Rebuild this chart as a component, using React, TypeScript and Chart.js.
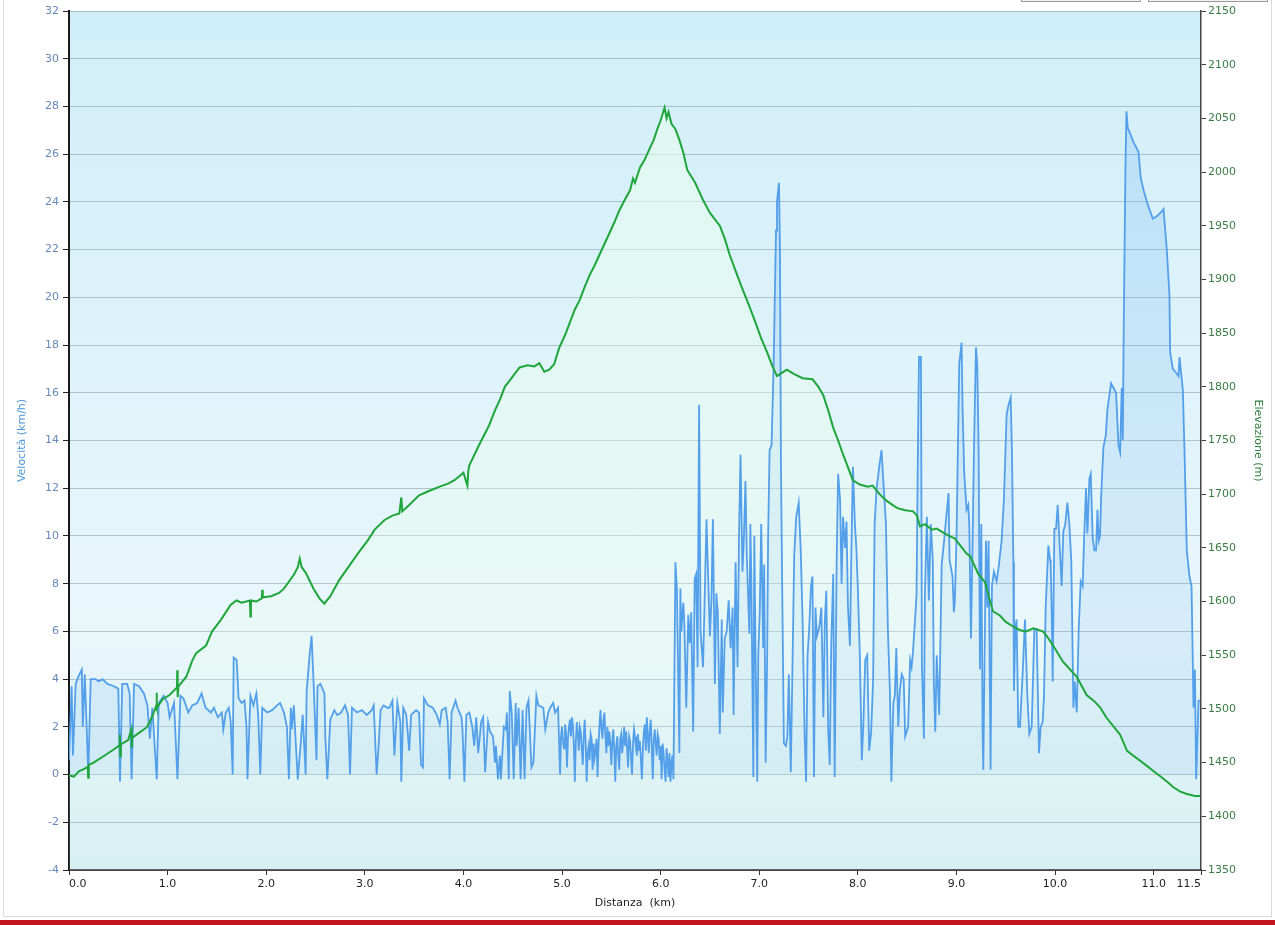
import React, { useEffect, useRef } from 'react';
import { Chart, registerables } from 'chart.js';

Chart.register(...registerables);

// tick positions on the distance axis (last one is the end of the track)
const xTicksKm = [0, 1, 2, 3, 4, 5, 6, 7, 8, 9, 10, 11, 11.48];
const xTickLabels = ['0.0', '1.0', '2.0', '3.0', '4.0', '5.0', '6.0', '7.0', '8.0', '9.0', '10.0', '11.0', '11.5'];

// [km, km/h]
const speedPoints: [number, number][] = [
  [0, 0.6], [0.027, 3.7], [0.04, 0.8], [0.068, 3.8], [0.095, 4.1], [0.13, 4.4], [0.14, 2.0], [0.16, 4.2],
  [0.196, 0.0], [0.22, 4.0], [0.27, 4.0], [0.3, 3.9], [0.34, 4.0], [0.39, 3.8], [0.456, 3.7], [0.5, 3.6],
  [0.517, -0.3], [0.54, 3.8], [0.59, 3.8], [0.615, 3.4], [0.635, -0.2], [0.66, 3.8], [0.71, 3.7], [0.76, 3.4],
  [0.795, 2.9], [0.82, 1.5], [0.845, 2.8], [0.89, -0.2], [0.91, 3.0], [0.96, 3.3], [1.0, 3.0], [1.02, 2.4],
  [1.065, 3.0], [1.1, -0.2], [1.13, 3.3], [1.16, 3.2], [1.21, 2.6], [1.25, 2.9], [1.3, 3.0], [1.345, 3.4],
  [1.385, 2.8], [1.44, 2.6], [1.47, 2.8], [1.51, 2.4], [1.55, 2.6], [1.565, 1.9], [1.59, 2.6], [1.62, 2.8],
  [1.64, 2.2], [1.66, 0.0], [1.67, 4.9], [1.7, 4.8], [1.72, 3.2], [1.75, 3.0], [1.78, 3.1], [1.8, 2.0],
  [1.81, -0.2], [1.84, 3.3], [1.87, 2.9], [1.9, 3.4], [1.92, 2.4], [1.94, 0.0], [1.96, 2.8], [2.01, 2.6],
  [2.06, 2.7], [2.11, 2.9], [2.14, 3.0], [2.18, 2.6], [2.21, 2.0], [2.23, -0.2], [2.25, 2.8], [2.26, 1.9],
  [2.28, 2.9], [2.3, 1.3], [2.32, -0.2], [2.35, 1.3], [2.37, 2.5], [2.4, 0.0], [2.41, 3.5], [2.44, 5.0],
  [2.46, 5.8], [2.48, 3.9], [2.51, 0.6], [2.52, 3.7], [2.55, 3.8], [2.59, 3.4], [2.6, 1.5], [2.62, -0.2],
  [2.65, 2.3], [2.69, 2.7], [2.72, 2.5], [2.76, 2.6], [2.8, 2.9], [2.83, 2.5], [2.85, 0.0], [2.87, 2.8],
  [2.92, 2.6], [2.97, 2.7], [3.02, 2.5], [3.07, 2.7], [3.09, 2.9], [3.12, 0.0], [3.14, 1.2], [3.16, 2.7],
  [3.19, 2.9], [3.23, 2.8], [3.25, 2.8], [3.28, 3.1], [3.3, 0.8], [3.33, 3.0], [3.36, 2.2], [3.37, -0.3],
  [3.39, 2.8], [3.42, 2.5], [3.45, 1.0], [3.47, 2.5], [3.52, 2.7], [3.55, 2.6], [3.57, 0.4], [3.59, 0.3],
  [3.6, 3.2], [3.64, 2.9], [3.69, 2.8], [3.73, 2.5], [3.76, 2.1], [3.78, 2.7], [3.82, 2.8], [3.84, 2.2],
  [3.86, -0.2], [3.88, 2.6], [3.92, 3.1], [3.94, 2.8], [3.98, 2.4], [3.99, 1.9], [4.01, -0.3], [4.03, 2.5],
  [4.06, 2.6], [4.09, 2.0], [4.11, 1.2], [4.13, 2.4], [4.15, 0.9], [4.18, 2.2], [4.2, 2.4], [4.22, 0.1],
  [4.25, 2.2], [4.27, 1.8], [4.3, 1.6], [4.32, 0.5], [4.33, 1.2], [4.35, -0.2], [4.37, 0.8], [4.38, -0.2],
  [4.41, 2.0], [4.43, 1.9], [4.44, 2.6], [4.46, -0.2], [4.47, 3.5], [4.49, 2.6], [4.51, -0.2], [4.53, 3.0],
  [4.54, 1.2], [4.56, 2.8], [4.58, -0.2], [4.6, 2.7], [4.62, -0.2], [4.64, 2.8], [4.66, 3.1], [4.69, 0.3],
  [4.71, 0.5], [4.74, 3.3], [4.76, 2.9], [4.81, 2.8], [4.83, 1.9], [4.86, 2.6], [4.88, 2.8], [4.91, 3.0],
  [4.93, 2.6], [4.96, 2.8], [4.98, 0.0], [4.99, 1.6], [5.0, 2.0], [5.01, 1.4], [5.02, 1.1], [5.03, 2.1],
  [5.04, 1.8], [5.05, 0.3], [5.06, 1.5], [5.07, 2.0], [5.08, 2.3], [5.09, 1.6], [5.1, 2.4], [5.11, 2.1],
  [5.12, 1.2], [5.13, -0.3], [5.14, 1.4], [5.15, 2.2], [5.16, 1.7], [5.17, 1.0], [5.18, 2.0], [5.19, 1.8],
  [5.2, 1.1], [5.21, 0.4], [5.22, 1.6], [5.23, 2.3], [5.24, 1.3], [5.25, -0.3], [5.26, 0.9], [5.27, 1.2],
  [5.28, 0.6], [5.29, 1.7], [5.3, 1.5], [5.31, 0.2], [5.32, 1.3], [5.33, 0.7], [5.34, 1.0], [5.35, 1.5],
  [5.36, -0.1], [5.37, 1.2], [5.38, 2.1], [5.39, 2.7], [5.4, 1.9], [5.41, 1.5], [5.42, 2.3], [5.43, 2.6],
  [5.44, 1.6], [5.45, 0.9], [5.46, 2.0], [5.47, 1.2], [5.48, 1.8], [5.49, 1.3], [5.5, 0.4], [5.51, 1.4],
  [5.52, 1.9], [5.53, 1.0], [5.54, -0.3], [5.55, 1.2], [5.56, 1.6], [5.57, 0.8], [5.58, 0.2], [5.59, 1.5],
  [5.6, 1.7], [5.61, 0.9], [5.62, 1.4], [5.63, 2.0], [5.64, 1.2], [5.65, 1.8], [5.66, 1.1], [5.67, 0.3],
  [5.68, 1.6], [5.69, 1.4], [5.7, 0.7], [5.71, 0.0], [5.72, 1.3], [5.73, 1.9], [5.74, 1.6], [5.75, 1.1],
  [5.76, 0.8], [5.77, 1.7], [5.78, 1.0], [5.79, 1.4], [5.8, 0.6], [5.81, -0.2], [5.82, 1.1], [5.83, 1.8],
  [5.84, 2.1], [5.85, 1.0], [5.86, 2.4], [5.87, 1.6], [5.88, 0.9], [5.89, 1.9], [5.9, 2.3], [5.91, 1.2],
  [5.92, -0.2], [5.93, 1.4], [5.94, 1.9], [5.95, 1.3], [5.96, 0.8], [5.97, 1.7], [5.98, 1.5], [5.99, 0.6],
  [6.0, 1.2], [6.01, -0.2], [6.02, 1.3], [6.03, 0.9], [6.04, 0.2], [6.05, -0.3], [6.06, 1.1], [6.07, 0.6],
  [6.08, -0.1], [6.09, 0.9], [6.1, -0.3], [6.11, 0.5], [6.12, 0.8], [6.13, -0.2],
  [6.15, 8.9], [6.165, 7.8], [6.19, 0.9], [6.2, 7.8], [6.21, 6.0], [6.23, 7.2], [6.24, 6.4],
  [6.26, 2.8], [6.28, 6.7], [6.295, 5.5], [6.31, 6.8], [6.33, 1.8], [6.345, 8.2], [6.36, 8.4], [6.375, 4.5],
  [6.39, 15.5], [6.405, 6.0], [6.43, 4.5], [6.45, 8.0], [6.465, 10.7], [6.48, 8.5], [6.5, 5.8], [6.515, 7.3],
  [6.53, 10.7], [6.55, 3.8], [6.565, 7.6], [6.58, 6.8], [6.6, 1.7], [6.62, 6.5], [6.63, 2.6], [6.65, 5.7],
  [6.67, 6.0], [6.69, 7.3], [6.71, 5.3], [6.73, 7.0], [6.74, 2.5], [6.76, 8.9], [6.78, 4.5], [6.795, 10.0],
  [6.81, 13.4], [6.83, 8.5], [6.845, 10.0], [6.86, 12.3], [6.875, 9.0], [6.9, 5.9], [6.91, 10.5], [6.92, 8.2],
  [6.94, -0.1], [6.95, 10.0], [6.965, 4.2], [6.98, -0.3], [6.99, 5.0], [7.005, 6.8], [7.02, 10.5], [7.04, 5.3],
  [7.05, 8.8], [7.065, 0.5], [7.08, 4.8], [7.09, 10.0], [7.105, 13.6], [7.125, 13.8], [7.145, 17.0], [7.17, 22.8],
  [7.18, 24.0], [7.2, 24.8], [7.21, 22.0], [7.22, 13.0], [7.235, 7.0], [7.25, 1.3], [7.27, 1.2], [7.285, 1.6],
  [7.3, 4.2], [7.32, 0.1], [7.335, 4.0], [7.355, 9.2], [7.375, 10.8], [7.4, 11.4], [7.42, 9.5], [7.44, 6.4],
  [7.46, 1.7], [7.475, -0.3], [7.49, 5.0], [7.505, 6.0], [7.525, 7.9], [7.54, 8.3], [7.555, -0.1], [7.57, 7.0],
  [7.585, 5.8], [7.61, 6.2], [7.63, 7.0], [7.65, 2.4], [7.665, 6.4], [7.68, 7.7], [7.7, 1.8], [7.715, 0.4],
  [7.73, 5.4], [7.75, 8.4], [7.765, -0.1], [7.785, 8.9], [7.8, 12.6], [7.82, 11.5], [7.835, 8.0], [7.85, 10.8],
  [7.87, 9.5], [7.885, 10.6], [7.9, 7.0], [7.92, 5.4], [7.935, 9.5], [7.95, 12.9], [7.97, 10.5], [7.985, 9.5],
  [8.0, 7.8], [8.02, 5.0], [8.04, 0.6], [8.055, 2.0], [8.075, 4.8], [8.095, 5.0], [8.115, 1.0], [8.135, 1.8],
  [8.155, 4.0], [8.17, 10.5], [8.19, 12.0], [8.22, 13.0], [8.24, 13.6], [8.26, 12.2], [8.285, 10.5], [8.305, 6.0],
  [8.325, 3.5], [8.34, -0.3], [8.36, 3.0], [8.375, 3.3], [8.39, 5.3], [8.41, 2.0], [8.425, 3.5], [8.445, 4.2],
  [8.465, 4.0], [8.48, 1.6], [8.51, 2.0], [8.53, 4.8], [8.545, 4.5], [8.56, 5.2], [8.58, 6.5], [8.595, 7.5],
  [8.61, 14.0], [8.62, 17.5], [8.64, 17.5], [8.65, 4.5], [8.67, 1.5], [8.68, 7.5], [8.7, 10.8], [8.72, 7.3],
  [8.74, 10.5], [8.76, 9.0], [8.77, 4.0], [8.785, 1.8], [8.8, 5.0], [8.825, 2.5], [8.85, 8.8], [8.875, 9.8],
  [8.89, 10.5], [8.92, 11.8], [8.93, 9.0], [8.96, 8.3], [8.974, 6.8], [8.984, 7.3], [9.0, 9.8], [9.028, 17.2],
  [9.052, 18.1], [9.062, 15.3], [9.079, 12.6], [9.103, 11.1], [9.12, 11.3], [9.13, 10.5], [9.147, 5.7], [9.164, 9.8],
  [9.177, 13.5], [9.198, 17.9], [9.211, 17.2], [9.225, 13.5], [9.238, 4.4], [9.252, 10.5], [9.265, 1.8], [9.272, 0.2],
  [9.299, 9.8], [9.313, 7.0], [9.326, 9.8], [9.346, 0.2], [9.36, 7.9], [9.38, 8.5], [9.407, 8.1], [9.428, 8.7],
  [9.458, 9.8], [9.482, 11.6], [9.509, 15.1], [9.529, 15.5], [9.55, 15.8], [9.563, 13.5], [9.577, 8.9], [9.583, 3.5],
  [9.597, 6.1], [9.61, 6.5], [9.627, 2.0], [9.644, 2.0], [9.671, 4.2], [9.695, 6.5], [9.719, 3.3], [9.739, 1.7],
  [9.763, 2.0], [9.79, 6.1], [9.813, 6.1], [9.837, 0.9], [9.854, 2.0], [9.874, 2.2], [9.888, 3.3], [9.905, 7.0],
  [9.932, 9.6], [9.949, 9.0], [9.956, 8.8], [9.966, 6.8], [9.976, 3.9], [9.993, 10.3], [10.01, 10.3], [10.027, 11.3],
  [10.044, 9.8], [10.067, 7.9], [10.084, 10.2], [10.104, 10.5], [10.125, 11.4], [10.145, 10.5], [10.165, 8.9], [10.186, 2.8],
  [10.199, 3.9], [10.22, 2.6], [10.24, 6.1], [10.26, 8.1], [10.28, 7.9], [10.294, 9.8], [10.314, 12.0], [10.328, 10.1],
  [10.348, 12.4], [10.362, 12.6], [10.382, 9.9], [10.399, 9.4], [10.416, 9.4], [10.43, 11.1], [10.443, 9.8], [10.456, 10.0],
  [10.467, 11.6], [10.49, 13.7], [10.514, 14.2], [10.531, 15.3], [10.568, 16.4], [10.619, 16.0], [10.643, 13.8], [10.66, 13.5],
  [10.676, 16.2], [10.687, 14.0], [10.697, 19.0], [10.714, 25.5], [10.724, 27.8], [10.737, 27.1], [10.768, 26.8], [10.795, 26.5],
  [10.846, 26.1], [10.869, 25.0], [10.903, 24.4], [10.947, 23.8], [10.991, 23.3], [11.032, 23.4], [11.083, 23.6], [11.1, 23.7],
  [11.133, 22.0], [11.16, 20.1], [11.167, 17.7], [11.194, 17.0], [11.235, 16.8], [11.252, 16.7], [11.262, 17.5], [11.296, 16.1],
  [11.313, 13.5], [11.336, 9.4], [11.363, 8.3], [11.384, 7.9], [11.397, 4.6], [11.404, 2.8], [11.418, 4.4], [11.431, -0.2],
  [11.445, 1.7], [11.455, 3.1], [11.472, 3.1],
];

// [km, m]
const elevationPoints: [number, number][] = [
  [0, 1438], [0.05, 1437], [0.1, 1442], [0.15, 1444], [0.19, 1446], [0.195, 1436], [0.2, 1448], [0.25, 1450],
  [0.3, 1453], [0.335, 1455], [0.4, 1459], [0.45, 1462], [0.51, 1466], [0.515, 1476], [0.52, 1456], [0.525, 1467],
  [0.6, 1471], [0.633, 1481], [0.637, 1464], [0.64, 1473], [0.7, 1477], [0.79, 1483], [0.84, 1492], [0.885, 1503],
  [0.888, 1515], [0.892, 1501], [0.95, 1509], [1.02, 1513], [1.095, 1520], [1.098, 1536], [1.102, 1511], [1.11, 1521],
  [1.19, 1530], [1.25, 1545], [1.29, 1552], [1.39, 1559], [1.45, 1572], [1.54, 1583], [1.64, 1597], [1.7, 1601],
  [1.75, 1599], [1.835, 1601], [1.84, 1586], [1.845, 1601], [1.9, 1600], [1.955, 1603], [1.96, 1611], [1.965, 1604],
  [2.05, 1605], [2.13, 1608], [2.18, 1612], [2.28, 1625], [2.32, 1632], [2.34, 1640], [2.36, 1632], [2.4, 1627],
  [2.48, 1612], [2.54, 1603], [2.59, 1598], [2.65, 1605], [2.74, 1620], [2.84, 1633], [2.94, 1646], [3.03, 1657],
  [3.1, 1667], [3.2, 1676], [3.28, 1680], [3.35, 1682], [3.37, 1697], [3.38, 1684], [3.45, 1690], [3.55, 1699],
  [3.65, 1703], [3.76, 1707], [3.85, 1710], [3.91, 1713], [4.0, 1720], [4.04, 1708], [4.05, 1722], [4.06, 1727],
  [4.16, 1746], [4.26, 1764], [4.32, 1778], [4.37, 1788], [4.42, 1800], [4.47, 1806], [4.52, 1812], [4.57, 1818],
  [4.65, 1820], [4.72, 1819], [4.77, 1822], [4.82, 1814], [4.87, 1816], [4.92, 1821], [4.97, 1836], [5.03, 1848],
  [5.08, 1860], [5.13, 1872], [5.18, 1881], [5.23, 1893], [5.28, 1904], [5.33, 1913], [5.38, 1923], [5.43, 1933],
  [5.48, 1943], [5.53, 1953], [5.58, 1964], [5.63, 1973], [5.69, 1983], [5.72, 1994], [5.74, 1990], [5.79, 2004],
  [5.84, 2012], [5.89, 2022], [5.93, 2030], [5.97, 2041], [6.0, 2048], [6.02, 2054], [6.04, 2060], [6.06, 2050],
  [6.08, 2056], [6.11, 2045], [6.15, 2040], [6.19, 2030], [6.23, 2018], [6.27, 2002], [6.35, 1990], [6.43, 1974],
  [6.5, 1962], [6.6, 1950], [6.65, 1938], [6.7, 1923], [6.76, 1908], [6.83, 1891], [6.9, 1875], [6.97, 1858],
  [7.02, 1845], [7.08, 1832], [7.13, 1820], [7.18, 1810], [7.23, 1813], [7.28, 1816], [7.35, 1812], [7.44, 1808],
  [7.54, 1807], [7.6, 1800], [7.65, 1792], [7.7, 1778], [7.75, 1762], [7.8, 1750], [7.85, 1737], [7.9, 1725],
  [7.95, 1713], [8.02, 1709], [8.1, 1707], [8.15, 1708], [8.22, 1700], [8.29, 1694], [8.35, 1690], [8.4, 1687],
  [8.48, 1685], [8.56, 1684], [8.6, 1680], [8.63, 1670], [8.68, 1672], [8.75, 1667], [8.8, 1668], [8.87, 1664],
  [8.93, 1661], [8.98, 1659], [9.04, 1652], [9.1, 1645], [9.14, 1642], [9.22, 1626], [9.29, 1618], [9.33, 1604],
  [9.37, 1591], [9.44, 1587], [9.5, 1581], [9.57, 1577], [9.63, 1574], [9.7, 1572], [9.78, 1575], [9.88, 1572],
  [9.93, 1566], [9.98, 1559], [10.08, 1544], [10.15, 1537], [10.22, 1530], [10.32, 1513], [10.4, 1507], [10.46, 1501],
  [10.52, 1492], [10.59, 1484], [10.66, 1476], [10.73, 1461], [10.8, 1456], [10.86, 1452], [10.93, 1447], [11.0, 1442],
  [11.07, 1437], [11.14, 1432], [11.2, 1427], [11.27, 1423], [11.33, 1421], [11.37, 1420], [11.42, 1419], [11.47, 1419],
];

const FONT = { family: '"DejaVu Sans", Verdana, sans-serif', size: 11 };

// light blue plot background, paler towards the lower part
const plotBackground = {
  id: 'plotBackground',
  beforeDraw(chart: any) {
    const { ctx, chartArea: a } = chart;
    if (!a) return;
    const g = ctx.createLinearGradient(0, a.top, 0, a.bottom);
    g.addColorStop(0, '#d0eef9');
    g.addColorStop(0.72, '#e9f7fb');
    g.addColorStop(1, '#d4eef3');
    ctx.save();
    ctx.fillStyle = g;
    ctx.fillRect(a.left, a.top, a.right - a.left, a.bottom - a.top);
    ctx.restore();
  },
};

function verticalFill(top: string, bottom: string) {
  return (ctx: any) => {
    const a = ctx.chart.chartArea;
    if (!a) return top;
    const g = ctx.chart.ctx.createLinearGradient(0, a.top, 0, a.bottom);
    g.addColorStop(0, top);
    g.addColorStop(1, bottom);
    return g;
  };
}

export default function App() {
  const canvasRef = useRef<HTMLCanvasElement>(null);
  const chartRef = useRef<Chart | null>(null);

  useEffect(() => {
    document.body.style.margin = '0';
    if (!canvasRef.current) return;
    if (chartRef.current) chartRef.current.destroy();

    chartRef.current = new Chart(canvasRef.current, {
      type: 'line',
      data: {
        datasets: [
          {
            label: 'Elevazione',
            data: elevationPoints.map(([x, y]) => ({ x, y })),
            yAxisID: 'yElev',
            borderColor: '#1ea53b',
            borderWidth: 2,
            pointRadius: 0,
            tension: 0,
            fill: 'start',
            backgroundColor: verticalFill('rgba(232, 253, 236, 0.65)', 'rgba(232, 253, 236, 0.12)'),
          },
          {
            label: 'Velocità',
            data: speedPoints.map(([x, y]) => ({ x, y })),
            yAxisID: 'ySpeed',
            borderColor: '#539fe9',
            borderWidth: 1.8,
            pointRadius: 0,
            tension: 0,
            fill: 'origin',
            backgroundColor: verticalFill('rgba(100, 170, 240, 0.24)', 'rgba(100, 170, 240, 0.1)'),
          },
        ],
      },
      options: {
        responsive: true,
        maintainAspectRatio: false,
        animation: false,
        layout: { padding: { top: 11, left: 0, right: 0, bottom: 0 } },
        plugins: {
          legend: { display: false },
          tooltip: { enabled: false },
          filler: { drawTime: 'beforeDatasetsDraw' },
        },
        scales: {
          x: {
            type: 'linear',
            min: 0,
            max: 11.48,
            afterBuildTicks: (s: any) => {
              s.ticks = xTicksKm.map((v) => ({ value: v }));
            },
            afterFit: (s: any) => {
              s.height = 55;
            },
            ticks: {
              autoSkip: false,
              maxRotation: 0,
              align: 'inner',
              color: '#1e1e1e',
              font: FONT,
              padding: 3,
              callback: (_v: any, i: number) => xTickLabels[i],
            },
            grid: { drawOnChartArea: false, tickLength: 5, tickColor: '#333' },
            border: { color: '#4a4a4a', width: 2 },
            title: {
              display: true,
              text: 'Distanza  (km)',
              color: '#1e1e1e',
              font: FONT,
              padding: { top: 0, bottom: 15 },
            },
          },
          ySpeed: {
            type: 'linear',
            position: 'left',
            min: -4,
            max: 32,
            afterFit: (s: any) => {
              s.width = 69;
            },
            ticks: { stepSize: 2, color: '#6689b9', font: FONT, padding: 4 },
            grid: { color: 'rgba(110, 135, 145, 0.45)', lineWidth: 1, tickLength: 6, tickColor: '#222' },
            border: { color: '#1a1a1a', width: 2 },
            title: {
              display: true,
              text: 'Velocità (km/h)',
              color: '#4f97d8',
              font: FONT,
              padding: { top: 16, bottom: 0 },
            },
          },
          yElev: {
            type: 'linear',
            position: 'right',
            min: 1350,
            max: 2150,
            afterFit: (s: any) => {
              s.width = 74;
            },
            ticks: {
              stepSize: 50,
              color: '#3a7c45',
              font: FONT,
              padding: 2,
              callback: (v: any) => String(v),
            },
            grid: { drawOnChartArea: false, tickLength: 5, tickColor: '#444' },
            border: { color: '#444', width: 1.5 },
            title: {
              display: true,
              text: 'Elevazione (m)',
              color: '#2f7f3d',
              font: FONT,
              padding: { top: 11, bottom: 0 },
            },
          },
        },
      },
      plugins: [plotBackground],
    });

    return () => {
      if (chartRef.current) {
        chartRef.current.destroy();
        chartRef.current = null;
      }
    };
  }, []);

  return (
    <div style={{ position: 'relative', width: 1275, height: 925, overflow: 'hidden', background: '#fff' }}>
      <div
        style={{
          position: 'absolute',
          left: 3,
          top: -2,
          width: 1267,
          height: 917,
          border: '1px solid #d9d9d9',
          background: '#fff',
        }}
      />
      <div style={{ position: 'absolute', left: 1021, top: -20, width: 118, height: 20, border: '1px solid #9a9a9a', background: '#f4f4f4' }} />
      <div style={{ position: 'absolute', left: 1148, top: -20, width: 118, height: 20, border: '1px solid #9a9a9a', background: '#f4f4f4' }} />
      <div style={{ position: 'absolute', left: 0, top: 0, width: 1275, height: 925 }}>
        <canvas ref={canvasRef} />
      </div>
      <div style={{ position: 'absolute', left: 0, top: 920, width: 1275, height: 5, background: '#c3131c' }} />
    </div>
  );
}
